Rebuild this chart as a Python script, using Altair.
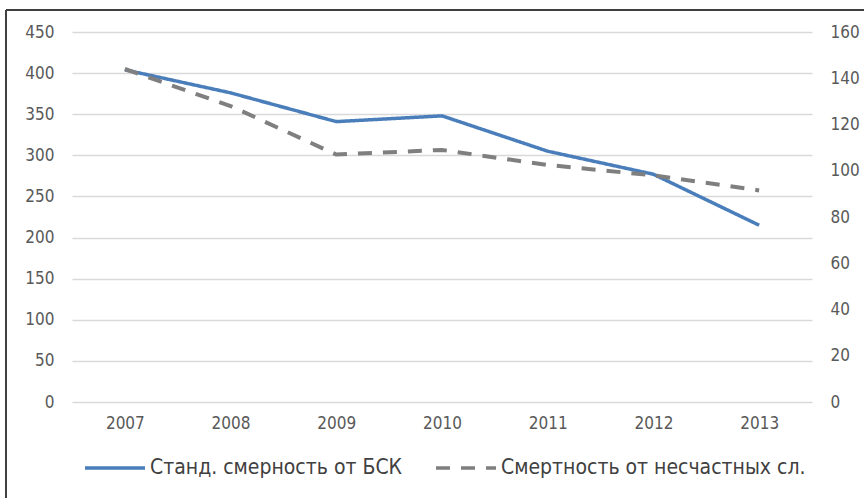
import altair as alt
import pandas as pd

# Yearly mortality figures
years = ["2007", "2008", "2009", "2010", "2011", "2012", "2013"]
bsk_rate = [404, 376, 341, 348, 305, 277, 215]
accident_rate = [144, 128, 107, 109, 102.5, 98, 91.5]

series_names = ["Станд. смерность от БСК", "Смертность от несчастных сл."]

df = pd.DataFrame({
    "year": years * 2,
    "value": bsk_rate + accident_rate,
    "series": [series_names[0]] * len(years) + [series_names[1]] * len(years),
})

FONT = "'Liberation Sans Narrow', 'DejaVu Sans Condensed', 'Noto Sans', sans-serif"
TICK_COLOR = "#595959"

legend_cfg = dict(
    title=None, orient="none", direction="horizontal",
    legendX=11, legendY=404, padding=0,
    symbolType="stroke", symbolSize=3600, symbolStrokeWidth=3.5,
    labelFont=FONT, labelFontSize=21, labelColor="#404040",
    labelLimit=0, columnPadding=26, labelOffset=3,
)

x_enc = alt.X(
    "year:O",
    scale=alt.Scale(type="point", padding=0.5),
    axis=alt.Axis(title=None, labelAngle=0, ticks=False, domain=False,
                  labelPadding=13, labelFontSize=17, labelColor=TICK_COLOR,
                  labelFont=FONT),
)

color_enc = alt.Color(
    "series:N",
    scale=alt.Scale(domain=series_names, range=["#4a7ebb", "#7f7f7f"]),
    legend=alt.Legend(**legend_cfg),
)
dash_enc = alt.StrokeDash(
    "series:N",
    scale=alt.Scale(domain=series_names, range=[[1, 0], [14, 11]]),
    legend=alt.Legend(**legend_cfg),
)

base = alt.Chart(df)

left_line = base.transform_filter(
    alt.datum.series == series_names[0]
).mark_line(strokeWidth=3.5, clip=False).encode(
    x=x_enc,
    y=alt.Y("value:Q", scale=alt.Scale(domain=[0, 450]),
            axis=alt.Axis(title=None, values=list(range(0, 451, 50)),
                          ticks=False, domain=False, grid=True,
                          gridColor="#d9d9d9", gridWidth=1.5,
                          labelPadding=18, labelFontSize=17,
                          labelColor=TICK_COLOR, labelFont=FONT)),
    color=color_enc,
    strokeDash=dash_enc,
)

right_line = base.transform_filter(
    alt.datum.series == series_names[1]
).mark_line(strokeWidth=4, clip=False).encode(
    x=x_enc,
    y=alt.Y("value:Q", scale=alt.Scale(domain=[0, 160]),
            axis=alt.Axis(title=None, orient="right",
                          values=list(range(0, 161, 20)),
                          ticks=False, domain=False, grid=False,
                          labelPadding=18, labelFontSize=17,
                          labelColor=TICK_COLOR, labelFont=FONT)),
    color=color_enc,
    strokeDash=dash_enc,
)

# Outer frame (top and left edges)
frame_df = pd.DataFrame({"k": [0]})
frame_top = alt.Chart(frame_df).mark_rule(color="#404040", strokeWidth=2).encode(
    x=alt.value(-66), x2=alt.value(800), y=alt.value(-22)
)
frame_left = alt.Chart(frame_df).mark_rule(color="#404040", strokeWidth=2).encode(
    x=alt.value(-66), y=alt.value(-22), y2=alt.value(470)
)

chart = alt.layer(left_line, right_line, frame_top, frame_left).resolve_scale(
    y="independent"
).properties(
    width=740,
    height=370,
    autosize=alt.AutoSizeParams(type="none"),
    padding={"left": 72, "top": 32, "right": 52, "bottom": 96},
    background="white",
).configure_view(stroke=None)

chart.save("out.html", embed_options={"renderer": "svg", "actions": False})
